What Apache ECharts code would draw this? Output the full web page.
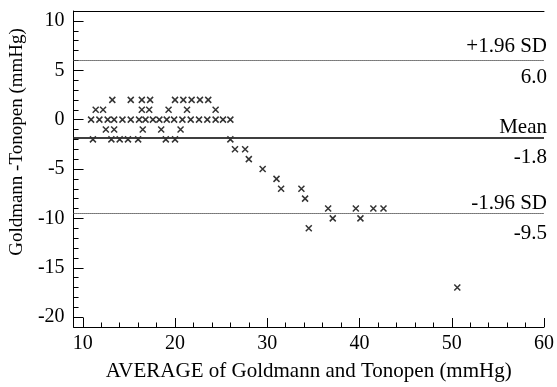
<!DOCTYPE html>
<html>
<head>
<meta charset="utf-8">
<script src="https://cdn.jsdelivr.net/npm/echarts@6/dist/echarts.min.js"></script>
<style>
  html, body { margin: 0; padding: 0; background: #fff; }
  #chart { width: 557px; height: 387px; }
</style>
</head>
<body>
<div id="chart"></div>
<script>
// Bland-Altman: average of the two readings (x) and their difference (y)
var avgValues = [
  13.2, 15.2, 16.4, 17.3, 20.0, 20.9, 21.8, 22.7, 23.6,
  11.4, 12.2, 16.4, 17.2, 19.3, 21.3, 24.4,
  10.9, 11.8, 12.7, 13.4, 14.3, 15.2, 16.1, 16.8, 17.6, 18.3, 19.1, 19.9, 20.8, 21.7, 22.6, 23.5, 24.4, 25.2, 26.0,
  12.5, 13.4, 16.5, 18.5, 20.6,
  11.1, 13.1, 14.0, 14.9, 16.0, 19.0, 20.0, 26.0,
  26.5, 27.6, 28.0, 29.5, 31.0, 31.5, 33.7, 34.1,
  36.6, 39.6, 41.5, 42.6, 37.1, 40.1, 34.5, 50.6
];
var diffValues = [
  2, 2, 2, 2, 2, 2, 2, 2, 2,
  1, 1, 1, 1, 1, 1, 1,
  0, 0, 0, 0, 0, 0, 0, 0, 0, 0, 0, 0, 0, 0, 0, 0, 0, 0, 0,
  -1, -1, -1, -1, -1,
  -2, -2, -2, -2, -2, -2, -2, -2,
  -3, -3, -4, -5, -6, -7, -7, -8,
  -9, -9, -9, -9, -10, -10, -11, -17
];
var limitValues = [6.0, -1.8, -9.5];
var limitNames = ['+1.96 SD', 'Mean', '-1.96 SD'];
var xTicks = [10, 20, 30, 40, 50, 60];
var xMinorTicks = [12, 14, 16, 18, 22, 24, 26, 28, 32, 34, 36, 38, 42, 44, 46, 48, 52, 54, 56, 58];
var yTicks = [-20, -15, -10, -5, 0, 5, 10];
var yMinorTicks = [-19, -18, -17, -16, -14, -13, -12, -11, -9, -8, -7, -6, -4, -3, -2, -1, 1, 2, 3, 4, 6, 7, 8, 9];

var font = "'Liberation Serif', 'DejaVu Serif', serif";
var points = avgValues.map(function (x, i) { return [x, diffValues[i]]; });

// label gaps above / below each reference line
var gapAbove = [3, -1, -1];
var gapBelow = [7, 10, 10];
var lineData = [];
limitValues.forEach(function (v, i) {
  var ls = i === 1
    ? { type: 'solid', color: '#333', width: 1.5 }
    : { type: [1, 1], color: '#555', width: 1 };
  lineData.push({ yAxis: v, lineStyle: ls,
    label: { position: 'insideEndTop', formatter: limitNames[i], distance: [-3, gapAbove[i]] } });
  lineData.push({ yAxis: v, lineStyle: ls,
    label: { position: 'insideEndBottom', formatter: v.toFixed(1), distance: [-3, gapBelow[i]] } });
});

var myChart = echarts.init(document.getElementById('chart'));
var options = {
  animation: false,
  grid: { left: 72, right: 10, top: 11, bottom: 57 },
  xAxis: [{
    type: 'value', min: 9, max: 60, position: 'bottom',
    name: 'AVERAGE of Goldmann and Tonopen (mmHg)',
    nameLocation: 'middle', nameGap: 34,
    nameTextStyle: { fontFamily: font, fontSize: 21, color: '#000' },
    axisLine: { onZero: false, lineStyle: { color: '#000' } },
    axisTick: { inside: true, length: 9, customValues: xTicks, lineStyle: { color: '#000' } },
    axisLabel: { customValues: xTicks, color: '#000', fontFamily: font, fontSize: 20, margin: 7 },
    splitLine: { show: false }
  }, {
    type: 'value', min: 9, max: 60, position: 'bottom',
    axisLine: { show: false, onZero: false },
    axisTick: { inside: true, length: 4.5, customValues: xMinorTicks, lineStyle: { color: '#000' } },
    axisLabel: { show: false },
    splitLine: { show: false }
  }, {
    type: 'value', min: 9, max: 60, position: 'top',
    axisLine: { show: true, onZero: false, lineStyle: { color: '#000' } },
    axisTick: { show: false },
    axisLabel: { show: false },
    splitLine: { show: false }
  }],
  yAxis: [{
    type: 'value', min: -21, max: 11, position: 'left',
    name: 'Goldmann -Tonopen (mmHg)',
    nameLocation: 'middle', nameGap: 40,
    nameTextStyle: { fontFamily: font, fontSize: 19, color: '#000', padding: [0, 0, 0, 54] },
    axisLine: { onZero: false, lineStyle: { color: '#000' } },
    axisTick: { inside: true, length: 10, customValues: yTicks, lineStyle: { color: '#000' } },
    axisLabel: { customValues: yTicks, color: '#000', fontFamily: font, fontSize: 20, margin: 9 },
    splitLine: { show: false }
  }, {
    type: 'value', min: -21, max: 11, position: 'left',
    axisLine: { show: false, onZero: false },
    axisTick: { inside: true, length: 5, customValues: yMinorTicks, lineStyle: { color: '#000' } },
    axisLabel: { show: false },
    splitLine: { show: false }
  }],
  series: [{
    type: 'scatter',
    xAxisIndex: 0, yAxisIndex: 0,
    data: points,
    symbol: 'path://M0,0L10,10M10,0L0,10',
    symbolSize: 6,
    itemStyle: { color: 'transparent', borderColor: '#000', borderWidth: 1.5 },
    markLine: {
      silent: true,
      symbol: 'none',
      label: { color: '#000', fontFamily: font, fontSize: 21 },
      data: lineData
    }
  }]
};
myChart.setOption(options);
</script>
</body>
</html>
